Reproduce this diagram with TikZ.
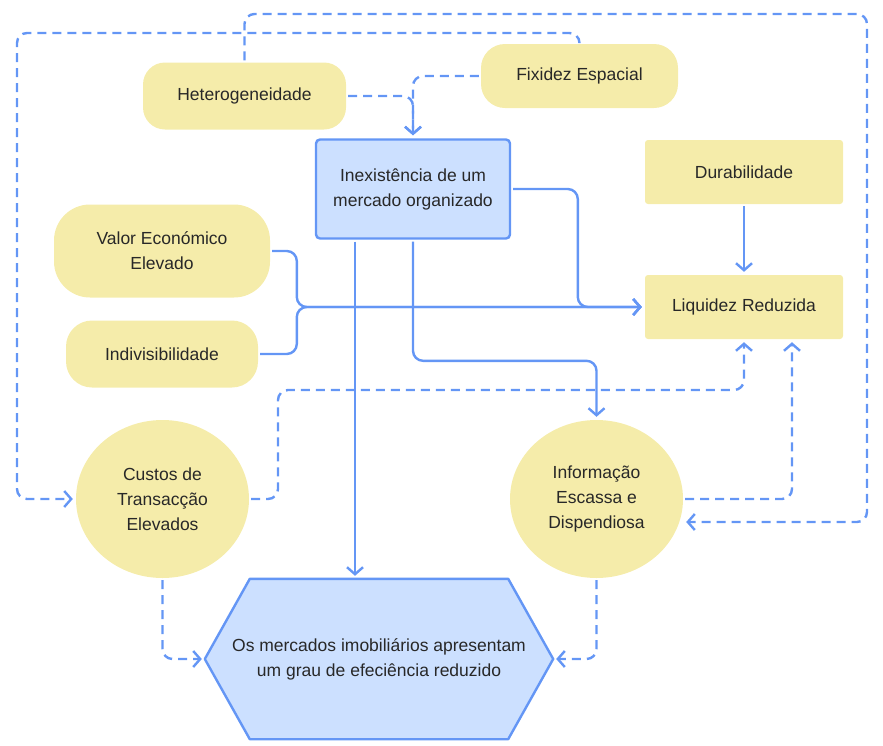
\documentclass[tikz,border=0pt]{standalone}
\usepackage{fontspec}
\setmainfont{Liberation Sans}
\usetikzlibrary{positioning, shapes.geometric, arrows.meta, backgrounds}
\definecolor{linkblue}{RGB}{100,150,245}
\definecolor{boxyellow}{RGB}{245,236,170}
\definecolor{boxblue}{RGB}{204,224,255}
\definecolor{txtgray}{RGB}{40,40,40}

\begin{document}
\begin{tikzpicture}[x=1pt, y=-1pt, % 1 unidade = 1 pixel
  every node/.style={font=\fontsize{17.5}{25}\selectfont, text=txtgray, align=center, inner sep=0pt},
  pill/.style={fill=boxyellow, rounded corners=#1},
  pill/.default=22pt,
  flatbox/.style={fill=boxyellow, rounded corners=3pt, minimum width=198pt, minimum height=64pt},
  blob/.style={ellipse, fill=boxyellow, minimum width=173pt, minimum height=158pt},
  sline/.style={linkblue, line width=2.4pt, rounded corners=10pt, -{Straight Barb[length=7pt,width=16pt]}, shorten >=3pt, shorten <=2pt},
  dline/.style={sline, dash pattern=on 9pt off 6pt},
]
\useasboundingbox (0,0) rectangle (883,745);

\node[pill=22pt, minimum width=203pt, minimum height=67pt] (het) at (244.5,96) {Heterogeneidade};
\node[pill=24pt, minimum width=197pt, minimum height=64pt] (fix) at (579.5,76) {Fixidez Espacial};
\node[fill=boxblue, draw=linkblue, line width=2.4pt, rounded corners=4pt, minimum width=194pt, minimum height=99pt] (inex) at (413,189) {Inexistência de um\\mercado organizado};
\node[flatbox] (dur) at (744,172) {Durabilidade};
\node[pill=36pt, minimum width=216pt, minimum height=93pt] (val) at (162,251) {Valor Económico\\Elevado};
\node[pill=26pt, minimum width=192pt, minimum height=67pt] (ind) at (162,354) {Indivisibilidade};
\node[flatbox] (liq) at (744,307) {Liquidez Reduzida};
\node[blob] (cust) at (162.5,499) {Custos de\\Transacção\\Elevados};
\node[blob] (info) at (596.5,499) {Informação\\Escassa e\\Dispendiosa};
\node[minimum width=348pt, minimum height=160pt] (eff) at (379,659) {Os mercados imobiliários apresentam\\um grau de efeciência reduzido};
\begin{scope}[on background layer]
\filldraw[fill=boxblue, draw=linkblue, line width=2.4pt, line join=round]
  (eff.west) -- ([xshift=45pt]eff.north west) -- ([xshift=-45pt]eff.north east) -- (eff.east)
  -- ([xshift=-45pt]eff.south east) -- ([xshift=45pt]eff.south west) -- cycle;
\end{scope}

\coordinate (inexA) at ([xshift=-58pt]inex.south);

\draw[dline] (het.east) -| (inex.north);
\draw[dline] (fix.west) -| (inex.north);
\draw[dline] (het.north) |- (867,14) |- ([yshift=-23pt]info.east);
\draw[dline] (fix.north) |- (17,33) |- (cust.west);
\draw[sline] (inex.east) -| ([xshift=-67pt]liq.west) -- (liq.west);
\draw[sline] (val.east) -| ([xshift=-348pt]liq.west) -- (liq.west);
\draw[sline] (ind.east) -| ([xshift=-348pt]liq.west) -- (liq.west);
\draw[sline] (dur.south) -- (liq.north);
\draw[sline] (inexA) -- (inexA |- eff.north);
\draw[sline] (inex.south) |- ([yshift=59pt]info.north) -- (info.north);
\draw[dline] (cust.east) -| (278,390) -| (liq.south);
\draw[dline] (info.east) -| ([xshift=48pt]liq.south);
\draw[dline] (cust.south) |- (eff.west);
\draw[dline] (info.south) |- (eff.east);

\end{tikzpicture}
\end{document}
